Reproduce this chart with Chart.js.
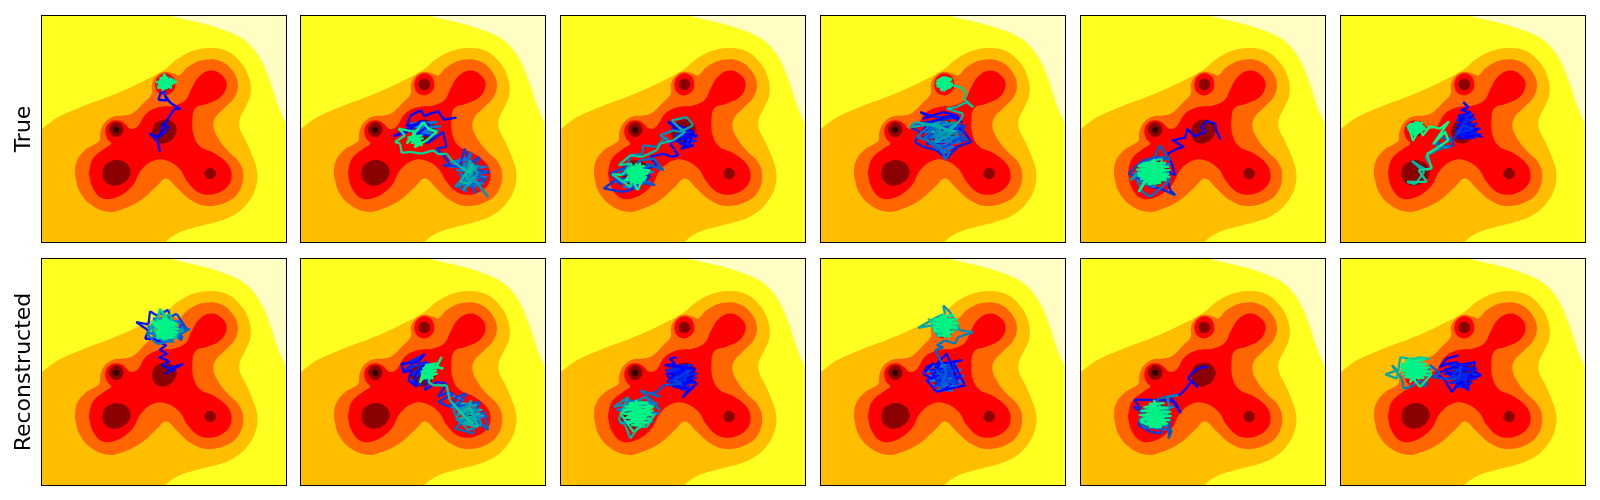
<!DOCTYPE html>
<html lang="en">
<head>
  <meta charset="UTF-8" />
  <title>True vs Reconstructed</title>
  <script src="https://cdn.jsdelivr.net/npm/chart.js"></script>
  <style>
    html, body { margin: 0; padding: 0; background: #fff; }
    body { position: relative; width: 1600px; height: 500px; overflow: hidden; }
    canvas { position: absolute; }
  </style>
</head>
<body>
  <script>
    // all shapes share one frame: x 31..767, y 46..726 (y grows downwards)
    const xRange = [31, 767];
    const yRange = [46, 726];
    const rowLabels = ['True', 'Reconstructed'];

    const paleArea = [[0,0],[800,0],[800,800],[0,800]];
    const yellowArea = [[0,0],[395,35],[420,46],[500,65],[570,85],[625,108],[665,140],[695,185],[718,240],[738,300],[753,340],[767,368],[800,420],[800,800],[0,800]];
    const goldArea = [[0,400],[31,385],[80,350],[160,315],[240,285],[330,245],[400,208],[440,175],[490,150],[540,142],[590,152],[630,185],[655,230],[660,280],[645,320],[628,355],[628,385],[645,420],[665,465],[680,515],[675,565],[650,610],[610,645],[560,665],[500,680],[450,695],[420,712],[405,726],[390,745],[0,800]];
    const orangeArea = [[130,525],[135,485],[160,450],[190,432],[205,420],[207,395],[222,365],[250,348],[285,345],[310,335],[340,305],[362,280],[363,250],[378,225],[403,214],[430,220],[445,225],[470,200],[520,178],[570,182],[605,210],[622,250],[612,290],[582,322],[555,350],[548,378],[560,410],[590,450],[625,485],[638,525],[625,575],[590,605],[530,618],[480,600],[440,565],[405,535],[375,560],[330,600],[280,625],[230,635],[180,615],[145,575],[130,525]];
    const redArea = [[172,520],[185,475],[220,445],[240,430],[228,415],[222,390],[233,368],[255,360],[278,368],[297,385],[318,380],[345,340],[385,320],[430,315],[465,298],[482,265],[505,228],[540,210],[575,225],[588,255],[570,290],[530,310],[495,322],[485,355],[490,410],[510,440],[550,458],[590,490],[603,525],[590,560],[550,582],[505,578],[470,545],[445,505],[405,480],[365,482],[330,510],[305,555],[260,590],[215,595],[185,565],[172,520]];
    const redSpot = [[372,252],[380,230],[403,218],[425,228],[433,252],[427,272],[403,285],[380,275],[372,252]];
    const darkLeft = [[213,518],[220,496],[240,483],[262,480],[284,488],[297,506],[296,528],[280,546],[255,556],[232,552],[216,536],[213,518]];
    const darkCentre = [[362,395],[372,370],[398,358],[425,365],[437,385],[430,410],[408,427],[385,428],[368,415],[362,395]];
    const darkRight = [[520,520],[527,507],[540,503],[552,510],[556,520],[550,532],[538,537],[526,532],[520,520]];
    const darkTop = [[385,252],[390,240],[403,235],[416,240],[421,252],[416,264],[403,269],[390,264],[385,252]];
    const darkSpot = [[232,388],[240,372],[255,365],[270,372],[277,388],[270,403],[255,410],[240,403],[232,388]];
    const blackSpot = [[246,388],[249,381],[255,379],[261,381],[264,388],[261,395],[255,397],[249,395],[246,388]];

    const contourAreas = [paleArea, yellowArea, goldArea, orangeArea, redArea, redSpot, darkLeft, darkCentre, darkRight, darkTop, darkSpot, blackSpot];
    const contourColors = ['#fffcc4', '#ffff20', '#ffbf00', '#ff6600', '#ff0000', '#ff0000', '#8b0000', '#8b0000', '#8b0000', '#8b0000', '#8b0000', '#2a0000'];

    // trajectories, top row
    const trueA = [[387,455],[380,425],[357,400],[385,412],[397,370],[412,382],[400,398],[385,405],[402,372],[417,345],[432,325],[447,325],[418,307],[402,285],[408,300],[382,298],[390,275],[404,280],[395,262],[385,240],[415,232],[395,262],[425,245],[380,252],[410,265],[400,228],[432,240],[390,258],[418,250],[375,245],[405,240],[395,268],[428,248],[388,232],[412,258],[382,262],[400,222],[420,262],[392,245],[436,244],[385,255],[408,232],[398,255],[415,245],[402,238],[390,250],[412,240],[398,262],[420,235],[405,250],[395,240],[410,255],[400,245]];
    const trueB = [[500,352],[462,358],[445,333],[420,340],[405,348],[392,330],[362,345],[350,378],[385,370],[310,408],[350,395],[395,360],[420,375],[380,400],[440,410],[410,430],[460,395],[470,440],[440,445],[465,470],[480,495],[460,495],[510,500],[525,445],[540,490],[570,470],[550,510],[600,515],[555,525],[590,540],[540,550],[560,580],[525,530],[500,555],[530,575],[510,520],[545,455],[530,510],[575,500],[520,490],[555,540],[495,560],[535,520],[595,590],[550,530],[520,570],[565,520],[540,480],[530,540],[560,500],[525,520],[545,550],[510,545],[550,490],[540,520],[490,485],[470,460],[445,462],[430,450],[395,460],[360,455],[335,458],[330,430],[315,425],[345,405],[325,385],[375,395],[350,430],[400,365],[415,385],[440,395],[410,420],[375,440],[385,410],[360,415],[395,435],[370,400],[385,425],[365,420],[380,405]];
    const trueC = [[430,435],[395,445],[410,415],[355,365],[385,375],[430,395],[415,440],[375,420],[440,405],[395,400],[360,430],[385,465],[365,470],[340,460],[300,470],[320,495],[280,510],[300,530],[240,570],[215,575],[160,565],[195,540],[215,555],[180,520],[230,500],[255,540],[210,535],[315,555],[280,545],[290,490],[340,510],[310,475],[270,480],[225,520],[240,465],[275,462],[280,435],[320,440],[345,410],[360,425],[330,405],[370,390],[390,395],[430,375],[410,350],[365,360],[385,380],[405,395],[370,420],[330,430],[320,450],[275,470],[240,465],[205,495],[245,490],[215,525],[185,522],[240,560],[250,500],[285,520],[262,570],[230,510],[300,510],[255,545],[270,490],[225,540],[285,535],[245,515],[275,505],[250,530],[265,515],[240,525],[280,525],[255,505],[268,545],[235,515],[258,520],[272,530],[248,538],[262,505],[255,525]];
    const trueD = [[330,335],[360,345],[340,355],[400,335],[440,345],[455,365],[420,345],[380,360],[350,370],[335,400],[370,370],[410,380],[460,390],[485,425],[440,440],[410,475],[380,450],[340,440],[315,425],[330,395],[300,380],[345,365],[385,395],[425,375],[465,375],[450,415],[405,440],[360,430],[355,400],[390,420],[430,415],[470,420],[440,385],[400,365],[365,385],[345,415],[380,445],[420,455],[405,480],[395,440],[350,420],[320,410],[360,375],[400,400],[445,400],[415,425],[385,385],[370,410],[410,395],[435,365],[395,375],[375,425],[425,400],[380,370],[300,380],[315,365],[360,372],[420,390],[455,355],[460,340],[410,325],[440,320],[470,305],[490,320],[462,295],[470,280],[455,262],[430,255],[385,258],[420,240],[395,232],[405,272],[378,248],[428,250],[398,245],[412,265],[390,262],[425,236],[402,230],[382,240],[415,255],[395,270],[408,240],[388,250],[418,262],[400,252],[410,245],[395,258]];
    const trueE = [[452,418],[440,392],[435,370],[412,362],[395,380],[405,395],[372,408],[352,385],[345,412],[308,420],[340,440],[322,445],[290,462],[305,490],[315,525],[285,510],[300,570],[315,585],[270,565],[240,560],[205,535],[175,520],[190,505],[220,480],[265,470],[300,480],[270,435],[245,485],[300,540],[240,590],[215,575],[200,540],[250,560],[290,515],[215,510],[180,540],[225,495],[270,540],[200,520],[240,500],[285,495],[255,545],[205,495],[275,475],[270,525],[225,545],[290,540],[240,510],[205,575],[235,530],[280,505],[215,520],[250,480],[265,545],[225,505],[290,525],[245,540],[205,525],[270,495],[230,520],[260,510],[215,535],[280,530],[240,490],[255,525],[225,530],[270,510],[245,505],[235,540],[265,530],[250,515]];
    const trueF = [[400,305],[415,320],[395,330],[420,335],[385,350],[410,360],[430,345],[385,375],[435,375],[395,395],[445,385],[410,410],[380,385],[455,410],[425,395],[400,350],[385,415],[430,410],[390,360],[420,370],[375,405],[440,400],[405,385],[415,345],[380,400],[430,385],[400,375],[365,420],[370,435],[345,440],[320,425],[340,390],[365,425],[325,405],[315,435],[360,440],[330,445],[300,460],[315,450],[285,470],[305,500],[290,510],[245,482],[282,515],[255,552],[230,545],[290,545],[265,510],[305,505],[295,475],[290,462],[325,440],[355,420],[345,395],[310,430],[355,365],[330,385],[300,378],[278,405],[270,385],[248,420],[240,395],[232,378],[262,365],[285,385],[250,400],[238,372],[275,375],[255,392],[245,380],[268,392],[252,372],[262,385],[242,388],[258,378]];

    // trajectories, bottom row
    const reconA = [[402,391],[455,363],[419,373],[429,383],[395,366],[415,353],[385,343],[407,331],[387,319],[405,306],[369,286],[342,286],[352,261],[315,236],[352,243],[357,203],[377,216],[412,199],[417,221],[437,211],[467,256],[447,241],[452,291],[432,271],[477,256],[407,296],[377,301],[347,271],[387,206],[427,236],[367,281],[442,276],[377,231],[457,261],[397,291],[357,251],[417,211],[437,286],[372,261],[387,196],[432,256],[377,286],[407,231],[362,236],[422,281],[387,256],[437,241],[372,246],[412,271],[397,221],[422,246],[377,271],[402,286],[427,266],[387,236],[417,256],[382,256],[407,246],[397,271],[417,236],[392,261],[407,261]];
    const reconB = [[405,331],[385,356],[335,361],[340,386],[365,381],[355,411],[380,431],[375,396],[400,366],[420,361],[405,441],[440,416],[470,421],[445,461],[475,446],[490,451],[445,476],[480,491],[500,461],[530,451],[500,491],[570,476],[550,521],[585,506],[595,561],[560,531],[550,571],[495,556],[530,526],[525,491],[490,501],[510,541],[555,491],[575,541],[535,561],[500,521],[545,471],[530,511],[570,511],[520,541],[565,551],[540,491],[515,511],[550,541],[525,521],[480,471],[470,426],[430,426],[415,416],[455,341],[440,371],[460,376],[420,366],[395,396],[430,406],[405,371],[390,416],[415,386],[400,406],[440,391],[410,396],[425,376],[400,386]];
    const reconC = [[380,341],[360,346],[375,361],[345,366],[395,371],[435,376],[420,406],[440,421],[400,461],[415,436],[370,431],[350,391],[400,391],[425,416],[380,421],[410,366],[360,406],[395,436],[430,391],[375,386],[410,416],[385,401],[350,416],[400,411],[420,381],[370,411],[395,421],[340,426],[320,446],[300,451],[330,461],[270,441],[305,471],[330,501],[285,461],[240,481],[190,491],[235,461],[215,501],[205,531],[225,546],[240,586],[265,551],[290,551],[315,511],[300,531],[250,566],[210,511],[270,476],[310,491],[230,521],[280,531],[250,491],[300,511],[235,541],[275,501],[255,536],[295,496],[240,511],[285,521],[260,486],[245,531],[280,511],[260,546],[250,506],[270,526],[255,516],[275,516],[262,509]];
    const reconD = [[345,386],[370,361],[350,371],[340,391],[365,406],[390,361],[455,351],[430,356],[465,426],[420,436],[380,446],[350,411],[395,391],[440,401],[410,331],[375,366],[415,416],[455,396],[400,441],[360,381],[435,371],[385,416],[445,421],[405,371],[375,431],[425,391],[395,406],[415,361],[440,431],[380,381],[405,421],[425,406],[390,436],[410,386],[375,321],[400,311],[380,306],[405,291],[435,301],[445,281],[490,266],[450,261],[420,206],[400,186],[405,211],[380,221],[325,253],[365,246],[385,281],[375,231],[430,226],[445,256],[395,276],[355,226],[415,281],[405,231],[440,236],[385,256],[425,266],[370,261],[410,216],[395,246],[435,251],[380,236],[415,246],[400,266],[420,236],[390,226],[405,256],[385,246],[415,261],[400,236],[410,249]];
    const reconE = [[412,371],[390,373],[365,389],[355,406],[382,431],[365,413],[345,439],[330,453],[300,459],[332,509],[315,476],[288,471],[192,469],[210,496],[190,491],[220,511],[205,546],[240,566],[275,571],[255,481],[300,531],[295,586],[305,561],[215,551],[265,466],[310,456],[325,456],[290,461],[300,496],[205,531],[250,551],[285,491],[230,501],[280,546],[215,521],[265,521],[295,511],[225,546],[270,486],[245,531],[285,531],[235,516],[260,551],[210,536],[275,511],[240,496],[290,541],[225,526],[265,536],[250,491],[280,521],[235,541],[260,506],[245,551],[270,531],[230,511],[255,526],[265,501],[245,516],[260,536],[250,521]];
    const reconF = [[385,336],[350,346],[330,371],[355,361],[380,356],[388,366],[435,356],[430,381],[452,396],[415,406],[415,441],[390,416],[365,446],[345,411],[320,391],[370,371],[410,371],[395,406],[370,396],[425,396],[350,386],[405,431],[385,381],[440,376],[375,421],[410,391],[360,406],[395,366],[385,406],[340,406],[305,401],[330,391],[300,366],[285,431],[270,411],[240,431],[220,436],[215,406],[185,366],[200,381],[165,393],[200,406],[210,341],[235,346],[298,346],[260,341],[280,376],[305,391],[270,431],[225,381],[290,396],[215,366],[265,361],[240,416],[280,361],[225,401],[270,391],[235,361],[285,386],[245,406],[220,376],[265,406],[250,366],[230,391],[275,376],[240,376],[260,396],[250,386]];

    const tracks = [trueA, trueB, trueC, trueD, trueE, trueF, reconA, reconB, reconC, reconD, reconE, reconF];
    // where along each track the blue starts turning green, as index range
    const fadeStart = [14, 8, 8, 5, 10, 18, 10, 4, 16, 14, 8, 20];
    const fadeEnd = [30, 68, 62, 78, 50, 52, 44, 54, 50, 62, 44, 50];

    // dense scribble in the middle of the clusters, end of the run (green)
    const endCores = [
      [[384,240],[424,238],[386,248],[428,248],[382,256],[420,256],[392,262],[412,262]],
      [[352,412],[395,405],[355,420],[398,414],[365,428],[392,424],[370,398],[385,434]],
      [[240,500],[282,498],[234,508],[290,510],[232,518],[292,520],[236,528],[288,530],[240,538],[282,540],[250,548],[272,548],[258,492],[262,552]],
      [[385,240],[420,240],[380,248],[426,250],[382,258],[422,260],[392,266],[412,266]],
      [[215,490],[285,488],[205,498],[295,500],[200,508],[298,510],[205,518],[295,520],[205,528],[298,530],[212,536],[285,538],[222,545],[270,548],[235,552],[255,480],[260,552]],
      [[238,372],[275,368],[233,380],[280,378],[235,388],[276,388],[245,396],[268,396],[250,404],[258,362]],
      [[385,232],[430,236],[378,242],[436,246],[374,252],[440,256],[376,262],[438,266],[382,272],[432,276],[392,282],[420,284],[400,228],[410,288]],
      [[405,365],[440,360],[400,375],[445,370],[395,385],[438,382],[400,395],[430,392],[410,405],[425,402]],
      [[235,480],[290,478],[225,490],[302,490],[220,500],[308,502],[220,512],[306,514],[225,524],[300,526],[232,536],[290,538],[245,546],[272,548],[258,472],[262,550]],
      [[385,220],[430,215],[372,228],[440,228],[365,240],[445,240],[368,252],[440,252],[375,264],[430,266],[385,276],[420,278],[400,212],[405,285]],
      [[235,482],[280,480],[222,492],[292,494],[212,504],[300,506],[208,516],[302,518],[212,528],[298,530],[222,540],[288,542],[238,550],[272,552],[252,472],[258,556]],
      [[225,352],[280,350],[215,362],[290,362],[212,372],[298,372],[212,382],[300,384],[218,392],[295,394],[228,402],[280,404],[240,346],[255,412]]
    ];

    // scribble of the earlier stretches, drawn under the track
    const deepBlue = '#0028f0';
    const midBlue = '#0a78d8';
    const tealBlue = '#10b0b0';
    const earlyCores = [
      [],
      [[midBlue, [[360,370],[440,365],[365,380],[450,378],[370,390],[445,390],[380,400],[440,402]]],
       [midBlue, [[470,490],[540,470],[480,500],[590,500],[500,510],[595,515],[510,525],[590,530],[515,540],[580,550],[530,555],[560,560]]]],
      [[deepBlue, [[365,385],[430,395],[375,405],[440,410],[380,415],[438,422],[390,430],[430,435],[400,440]]],
       [midBlue, [[200,510],[300,500],[190,525],[310,515],[195,545],[300,545],[220,560],[270,565]]]],
      [[deepBlue, [[335,340],[380,350],[440,350],[350,365],[460,380],[340,410],[470,420],[350,430],[440,445],[400,470]]],
       [midBlue, [[345,380],[440,375],[340,395],[455,390],[345,410],[460,410],[360,425],[450,425],[375,440],[430,440],[390,455],[415,455]]],
       [tealBlue, [[350,370],[410,365],[350,385],[420,380],[360,395],[440,392],[385,405],[445,375]]]],
      [[midBlue, [[190,520],[300,490],[185,535],[295,525],[210,490],[285,470]]]],
      [[deepBlue, [[385,345],[425,340],[380,360],[435,355],[380,375],[440,370],[378,390],[450,385],[385,400],[452,402],[395,412],[440,412]]]],
      [[midBlue, [[365,225],[450,235],[352,250],[462,255],[350,270],[455,280],[370,290],[430,295]]]],
      [[deepBlue, [[340,365],[400,335],[345,380],[410,355],[365,395],[400,380],[365,415],[395,425]]],
       [midBlue, [[470,450],[520,470],[480,490],[590,520],[500,530],[590,550]]],
       [tealBlue, [[505,480],[565,485],[500,495],[575,500],[505,510],[578,515],[512,525],[570,530],[520,540],[555,545]]]],
      [[deepBlue, [[355,370],[425,365],[348,382],[435,378],[352,392],[440,392],[358,404],[438,404],[365,416],[430,418],[375,428],[420,430],[395,440],[385,362]]],
       [midBlue, [[215,470],[320,480],[200,500],[325,510],[210,540],[310,535]]]],
      [[midBlue, [[360,370],[440,362],[350,385],[452,380],[352,400],[460,398],[358,412],[462,415],[370,428],[450,428],[385,440],[430,442]]]],
      [[midBlue, [[215,500],[310,490],[205,540],[300,550]]]],
      [[deepBlue, [[355,365],[420,362],[345,378],[435,375],[345,392],[445,392],[350,405],[440,405],[360,418],[425,420],[375,430],[410,432]]]]
    ];

    const columnLefts = [42, 301, 561, 821, 1081, 1341];
    const rowTops = [16, 259];
    const panelW = 244;
    const panelH = 226;
    const labelW = 42;

    function toXY(list) {
      return list.map(p => ({ x: p[0], y: p[1] }));
    }

    function winter(t) {
      const g = Math.round(255 * t);
      const b = Math.round(255 * (1 - t / 2));
      return 'rgb(0,' + g + ',' + b + ')';
    }

    const framePlugin = {
      id: 'frame',
      afterDraw(chart) {
        const a = chart.chartArea;
        const ctx = chart.ctx;
        ctx.save();
        ctx.strokeStyle = '#000';
        ctx.lineWidth = 1;
        ctx.strokeRect(a.left - 0.5, a.top - 0.5, a.right - a.left + 1, a.bottom - a.top + 1);
        ctx.restore();
      }
    };

    function scribble(list, color, order) {
      return {
        data: toXY(list),
        borderWidth: 2.3,
        borderJoinStyle: 'round',
        borderColor: color,
        pointRadius: 0,
        fill: false,
        tension: 0,
        order: order
      };
    }

    tracks.forEach((track, n) => {
      const col = n % 6;
      const row = Math.floor(n / 6);
      const first = col === 0;

      const canvas = document.createElement('canvas');
      canvas.width = panelW + 2 + (first ? labelW : 0);
      canvas.height = panelH + 2;
      canvas.style.left = (first ? columnLefts[col] - labelW - 1 : columnLefts[col] - 1) + 'px';
      canvas.style.top = (rowTops[row] - 1) + 'px';
      document.body.appendChild(canvas);

      const datasets = contourAreas.map((area, i) => ({
        data: toXY(area),
        backgroundColor: contourColors[i],
        borderWidth: 0,
        pointRadius: 0,
        fill: 'shape',
        tension: i === 0 ? 0 : 0.4,
        order: 100 - i
      }));

      earlyCores[n].forEach((core, i) => {
        datasets.push(scribble(core[1], core[0], 20 - i));
      });

      const main = scribble(track, '#0000ff', 1);
      main.segment = {
        borderColor: c => {
          const t = (c.p0DataIndex - fadeStart[n]) / (fadeEnd[n] - fadeStart[n]);
          return winter(Math.min(1, Math.max(0, t)));
        }
      };
      datasets.push(main);
      datasets.push(scribble(endCores[n], winter(0.95), 0));

      new Chart(canvas, {
        type: 'line',
        data: { datasets },
        plugins: [framePlugin],
        options: {
          responsive: false,
          animation: false,
          layout: { padding: 1 },
          plugins: { legend: { display: false }, tooltip: { enabled: false } },
          scales: {
            x: { type: 'linear', min: xRange[0], max: xRange[1], display: false },
            y: {
              type: 'linear',
              reverse: true,
              min: yRange[0],
              max: yRange[1],
              display: first,
              ticks: { display: false },
              grid: { display: false, drawTicks: false },
              border: { display: false },
              afterFit: s => { if (first) s.width = labelW; },
              title: {
                display: first,
                text: rowLabels[row],
                color: '#000',
                font: { family: 'DejaVu Sans', size: 22 },
                padding: { top: 11, bottom: 0 }
              }
            }
          }
        }
      });
    });
  </script>
</body>
</html>
